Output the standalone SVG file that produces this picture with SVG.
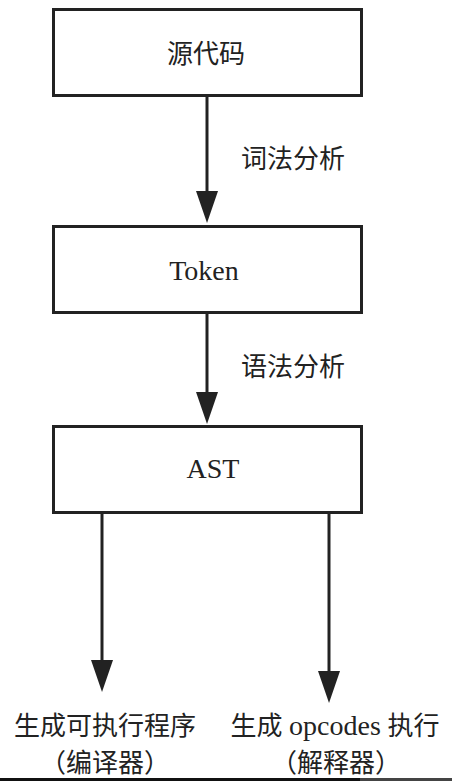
<svg xmlns="http://www.w3.org/2000/svg" width="452" height="781" viewBox="0 0 452 781">
<style>
.box{fill:#fff;stroke:#222;stroke-width:3}
.lbl{font-family:"Liberation Serif","Noto Sans CJK SC",serif;font-size:26px;fill:#222}
.mid{text-anchor:middle}
.lat{font-size:28px}
.conn{stroke:#222;stroke-width:3;fill:none}
</style>
<defs>
<marker id="ah" markerUnits="userSpaceOnUse" markerWidth="32" markerHeight="22" refX="2" refY="11" orient="auto">
<path d="M0,0 L32,11 L0,22 z" fill="#222"/>
</marker>
</defs>
<rect x="0" y="0" width="452" height="781" fill="#fff"/>
<g id="connectors">
<line class="conn" x1="207" y1="97" x2="207" y2="193" marker-end="url(#ah)"/>
<line class="conn" x1="207" y1="314" x2="207" y2="394" marker-end="url(#ah)"/>
<line class="conn" x1="102" y1="514" x2="102" y2="662" marker-end="url(#ah)"/>
<line class="conn" x1="329" y1="514" x2="329" y2="673" marker-end="url(#ah)"/>
<text class="lbl" x="241" y="168">词法分析</text>
<text class="lbl" x="241" y="376">语法分析</text>
</g>
<g id="src">
<rect class="box" x="53.5" y="9.5" width="308" height="86"/>
<text class="lbl mid" x="206" y="63">源代码</text>
</g>
<g id="token">
<rect class="box" x="53.5" y="226.5" width="308" height="86"/>
<text class="lbl mid lat" x="204" y="280">Token</text>
</g>
<g id="ast">
<rect class="box" x="53.5" y="426.5" width="308" height="86"/>
<text class="lbl mid lat" x="213" y="478">AST</text>
</g>
<g id="compiler">
<text class="lbl mid" x="105" y="735">生成可执行程序</text>
<text class="lbl mid" x="105" y="772">（编译器）</text>
</g>
<g id="interpreter">
<text class="lbl mid" x="335" y="735">生成 <tspan class="lat">opcodes</tspan> 执行</text>
<text class="lbl mid" x="336" y="772">（解释器）</text>
</g>
<rect x="0" y="778" width="360" height="3" fill="#111"/>
<rect x="360" y="778" width="92" height="3" fill="#444"/>
</svg>
